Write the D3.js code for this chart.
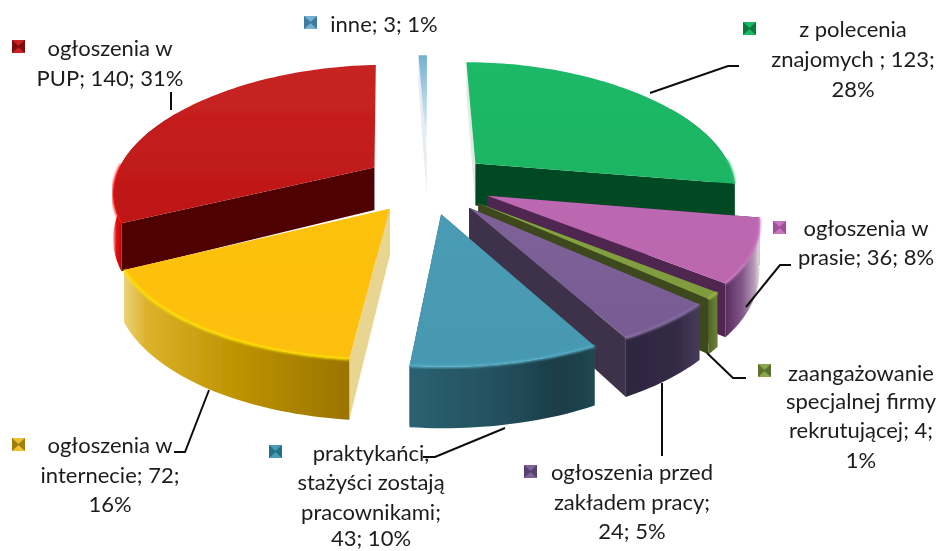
<!DOCTYPE html>
<html><head><meta charset="utf-8">
<script src="https://cdnjs.cloudflare.com/ajax/libs/d3/7.8.5/d3.min.js"></script>
<style>html,body{margin:0;padding:0;background:#fff}svg{display:block}text{font-family:Lato,"Open Sans",sans-serif;font-size:22px;fill:#1c1c1c;text-anchor:middle}</style>
</head><body><svg id="c" width="941" height="551"></svg>
<script>
// data (clockwise from 12 o'clock)
const categories = ["z polecenia znajomych","ogłoszenia w prasie","zaangażowanie specjalnej firmy rekrutującej","ogłoszenia przed zakładem pracy","praktykańci, stażyści zostają pracownikami","ogłoszenia w internecie","ogłoszenia w PUP","inne"];
const values = [123,36,4,24,43,72,140,3];
const percents = [28,8,1,5,10,16,31,1];
const labelLines = [
 ["z polecenia","znajomych ; 123;","28%"],
 ["ogłoszenia w","prasie; 36; 8%"],
 ["zaangażowanie","specjalnej firmy","rekrutującej; 4;","1%"],
 ["ogłoszenia przed","zakładem pracy;","24; 5%"],
 ["praktykańci,","stażyści zostają","pracownikami;","43; 10%"],
 ["ogłoszenia w","internecie; 72;","16%"],
 ["ogłoszenia w","PUP; 140; 31%"],
 ["inne; 3; 1%"]
];
// styles
const topFill = [["#1fb968","#1fb563"],["#bc68b2","#bb66ae"],["#86a443","#7f9a3e"],["#7d6298","#785b92"],["#4a9cb5","#4699b1"],["#fdc20f","#fcbf0c"],["#c82424","#bd1515"],["#74b0d0","#ffffff"]];
const rimColor = ["#2cc274","#cc7cc2","#a3c050","#8d72a8","#5db5cd","#ffe600","#f01010","#9cc8e0"];
const wallColor = ["#014a22","#50274f","#3c4a1e","#3e3348","#2b5564","#e9d592","#500000","#e6ecf0"];
const farWallColor = ["#e2eae6","#50274f","#3c4a1e","#3e3348","#2b5564","#e9d592","#f4eeee","#e6ecf0"];
const outerStops = [
 [[0,"#014a22"],[1,"#014a22"]],
 [[0,"#5a2c5e"],[.5,"#83588a"],[.85,"#b89cb8"],[1,"#e6dce6"]],
 [[0,"#526428"],[1,"#6c8238"]],
 [[0,"#2d2540"],[.7,"#342b45"],[1,"#463c58"]],
 [[0,"#2a6172"],[.5,"#234f5c"],[.8,"#1b3d48"],[1,"#204650"]],
 [[0,"#ecd27a"],[.1,"#dcb22a"],[.5,"#bd9300"],[1,"#9a7400"]],
 [[0,"#f4b0b0"],[.05,"#e81010"],[.18,"#900000"],[1,"#500000"]],
 [[0,"#e6ecf0"],[1,"#e6ecf0"]]
];
const markerColor = ["#1fb968","#c676bd","#8aa84a","#7d6298","#4a9cb5","#f0c030","#c82424","#74b0d0"];
const markerDark = ["#0a7a3c","#a04f98","#5c7030","#574370","#226f85","#a07d10","#7c0c0c","#3a7ca0"];
// layout
const layout = [
 {cx:853,base:[37,67,97],m:[743,22]},
 {cx:866,base:[236,265],m:[773,221]},
 {cx:861,base:[381,409,438,468],m:[758,364]},
 {cx:632,base:[480,510,539],m:[524,465]},
 {cx:371,base:[461,490,520,546],m:[269,445]},
 {cx:110,base:[453,483,512],m:[12,438]},
 {cx:110,base:[56,86],m:[12,40]},
 {cx:384,base:[32],m:[304,16]}
];
const leaders = [
 [[650,93],[728,66],[739,66]],
 [[746,307],[780,265],[791,265]],
 [[707,353],[733,378],[746,378]],
 [[662,383],[662,456]],
 [[505,428],[435,457],[423,457]],
 [[209,390],[185,452],[174,452]],
 [[171,92],[171,110]]
];
const P = {cx:428, cy:183, rx:261, ry:125.5, kx:0.185, k:0.146, h:44, explode:0.245};

const svg = d3.select("#c");
const defs = svg.append("defs");
const soft = defs.append("filter").attr("id","soft").attr("x","-5%").attr("y","-5%").attr("width","110%").attr("height","110%");
soft.append("feGaussianBlur").attr("stdDeviation",0.55);
const rimBlur = defs.append("filter").attr("id","rim").attr("x","-10%").attr("y","-10%").attr("width","120%").attr("height","120%");
rimBlur.append("feGaussianBlur").attr("stdDeviation",0.8);
const textSoft = defs.append("filter").attr("id","tsoft");
textSoft.append("feGaussianBlur").attr("stdDeviation",0.35);

function project(X,Y,Z){
  const w = 1 - P.k*Y, wx = 1 - P.kx*Y;
  return [P.cx + P.rx*X*wx, P.cy - P.ry*Y*w + P.h*Z*w*w];
}
const arcs = d3.pie().sort(null).value(d=>d).startAngle(0).endAngle(2*Math.PI)(values);
const order = [7,0,6,1,2,3,4,5];
const lineGen = d3.line();
const chart = svg.append("g").attr("filter","url(#soft)");

order.forEach(i=>{
  const a = arcs[i], mid=(a.startAngle+a.endAngle)/2;
  const ox = P.explode*Math.sin(mid), oy = P.explode*Math.cos(mid);
  const n = Math.max(6,Math.round((a.endAngle-a.startAngle)*40));
  const ts = d3.range(n+1).map(j=>a.startAngle+(a.endAngle-a.startAngle)*j/n);
  const rim = z => ts.map(t=>project(ox+Math.sin(t),oy+Math.cos(t),z));
  const apex = z => project(ox,oy,z);
  const g = chart.append("g");

  const gTop = defs.append("linearGradient").attr("id","t"+i).attr("x1",0).attr("y1",0).attr("x2",0).attr("y2",1);
  topFill[i].forEach((c,j)=>gTop.append("stop").attr("offset",j).attr("stop-color",c));
  const gOut = defs.append("linearGradient").attr("id","o"+i);
  outerStops[i].forEach(s=>gOut.append("stop").attr("offset",s[0]).attr("stop-color",s[1]));

  if(i!==7){
    const walls=[a.startAngle,a.endAngle].sort((p,q)=>Math.cos(q)-Math.cos(p));
    walls.forEach((t,wi)=>{
      const r0=project(ox+Math.sin(t),oy+Math.cos(t),0), r1=project(ox+Math.sin(t),oy+Math.cos(t),1);
      g.append("path").attr("d",lineGen([apex(0),r0,r1,apex(1)])+"Z").attr("fill",wi===0?farWallColor[i]:wallColor[i]);
    });
    const seen = ts.filter(t=>Math.cos(t)<0.5);
    const band = z => seen.map(t=>project(ox+Math.sin(t),oy+Math.cos(t),z));
    g.append("path").attr("d",lineGen(band(0).concat(band(1).reverse()))+"Z").attr("fill",`url(#o${i})`);
  } else {
    g.append("path").attr("d",lineGen([apex(0),rim(0)[0],rim(1)[0],apex(1)])+"Z").attr("fill",wallColor[i]);
  }
  g.append("path").attr("d",lineGen([apex(0)].concat(rim(0)))+"Z").attr("fill",`url(#t${i})`);
  if(i!==7){
    const front = ts.filter(t=>Math.cos(t)<0.05).map(t=>project(ox+Math.sin(t),oy+Math.cos(t),0));
    if(front.length>1) g.append("path").attr("d",lineGen(front)).attr("fill","none").attr("stroke",rimColor[i]).attr("stroke-width",2.2).attr("filter","url(#rim)");
  }
});

const lg = svg.append("g").attr("filter","url(#tsoft)");
leaders.forEach(l=>lg.append("path").attr("d",lineGen(l)).attr("fill","none").attr("stroke","#111").attr("stroke-width",2));

const tg = svg.append("g").attr("filter","url(#tsoft)");
labelLines.forEach((lines,i)=>{
  const L=layout[i];
  lines.forEach((s,j)=>tg.append("text").attr("x",L.cx).attr("y",L.base[j]).text(s));
  const [x,y]=L.m, S=13, c=[x+S/2,y+S/2];
  const m=tg.append("g");
  m.append("rect").attr("x",x).attr("y",y).attr("width",S).attr("height",S).attr("fill",markerColor[i]);
  [[[x,y],[x,y+S],[x+S*.55,c[1]]],[[x+S,y],[x+S,y+S],[x+S*.45,c[1]]]].forEach(p=>
    m.append("path").attr("d",lineGen(p)+"Z").attr("fill",markerDark[i]));
});
</script></body></html>
